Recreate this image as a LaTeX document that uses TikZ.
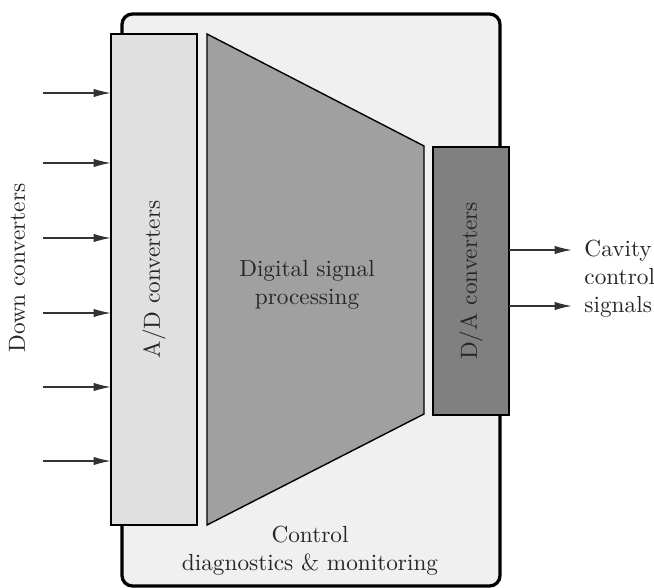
\documentclass[tikz,border=0pt]{standalone}
\usetikzlibrary{arrows.meta}
\definecolor{outerfill}{HTML}{F0F0F0}
\definecolor{adfill}{HTML}{E0E0E0}
\definecolor{dspfill}{HTML}{A0A0A0}
\definecolor{dafill}{HTML}{808080}
\definecolor{arrowcol}{HTML}{333333}
\begin{document}
\begin{tikzpicture}[x=0.43pt,y=-0.43pt,
  box/.style={draw=black, line width=0.6pt, inner sep=0pt, outer sep=0pt},
  sig/.style={draw=arrowcol, line width=0.6pt, -{Latex[length=7.5pt,width=3.6pt]}},
  lbl/.style={font=\fontsize{10pt}{12pt}\selectfont, text=black!85, inner sep=0pt}]
\useasboundingbox (0,0) rectangle (654,587);
% outer board
\draw[line width=1.4pt, fill=outerfill, rounded corners=4.5pt] (122,14) rectangle (500,586);
% A/D converters
\node[box, fill=adfill, minimum width=86*0.43pt, minimum height=491*0.43pt] (ad) at (154,279.5) {};
\node[lbl, rotate=90] (adt) at (ad.center) {A/D converters};
% DSP trapezoid
\draw[line width=0.6pt, fill=dspfill] (207,34) coordinate (dspa) -- (424,146) coordinate (dspb)
  -- (424,414) coordinate (dspc) -- (207,525) coordinate (dspd) -- cycle;
\node[lbl, align=center] (dsp) at (307,285) {Digital signal\\processing};
% D/A converters
\node[box, fill=dafill, minimum width=76*0.43pt, minimum height=268*0.43pt] (da) at (471,281) {};
\node[lbl, rotate=90] (dat) at (da.center) {D/A converters};
% control label
\node[lbl, align=center] (ctl) at (310,551) {Control\\diagnostics \& monitoring};
% input arrows
\foreach \i/\yy in {1/93,2/163,3/238,4/313,5/387,6/461}{
  \coordinate (in\i) at (43,\yy);
  \draw[sig] (in\i) -- (ad.west |- in\i);
}
\node[lbl, rotate=90] (dc) at (17,268) {Down converters};
% output arrows
\coordinate (out1) at (572,250);
\coordinate (out2) at (572,306);
\draw[sig] (da.east |- out1) -- (out1);
\draw[sig] (da.east |- out2) -- (out2);
\node[lbl, align=left, anchor=west] (cav) at (584,279) {Cavity\\control\\signals};
\end{tikzpicture}
\end{document}
